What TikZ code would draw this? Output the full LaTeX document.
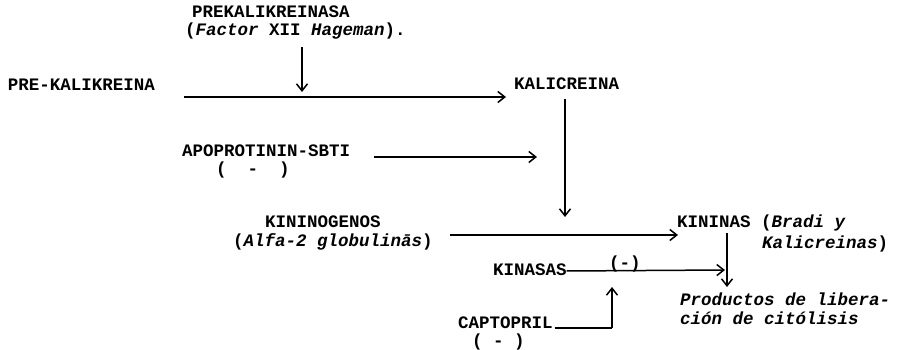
\documentclass[tikz,border=0pt]{standalone}
\usepackage{fontspec}
\setmainfont{Liberation Mono}
\usetikzlibrary{arrows.meta,calc}
\tikzset{
  lbl/.style={inner sep=0pt, outer sep=0pt, anchor=base west, font=\bfseries\fontsize{17.5}{20}\selectfont},
  arr/.style={line width=1.5pt, -{Straight Barb[length=7pt,width=11pt,line width=1.5pt]}},
  ln/.style={line width=1.5pt}
}
\newcommand{\tws}[1]{{\itshape #1}}
\begin{document}
\begin{tikzpicture}[x=1pt,y=-1pt]
\useasboundingbox (0,0) rectangle (903,350);
% texts
\node[lbl] (prek) at (192,18) {PREKALIKREINASA};
\node[lbl] (fac) at (185,36) {(\tws{Factor} XII \tws{Hageman}).};
\node[lbl] (pre) at (8,91) {PRE-KALIKREINA};
\node[lbl] (kal) at (514,90) {KALICREINA};
\node[lbl] (apo) at (182,157) {APOPROTININ-SBTI};
\node[lbl] (apom) at (216,175) {(\ \ -\ \ )};
\node[lbl] (kino) at (265,227) {KININOGENOS};
\node[lbl] (alfa) at (233,247) {(\tws{Alfa-2 globulinās})};
\node[lbl] (kin) at (677,228) {KININAS (\tws{Bradi y}};
\node[lbl] (kal2) at (762,248) {\tws{Kalicreinas})};
\node[lbl] (kinas) at (493,275) {KINASAS};
\node[lbl] (kinm) at (609,268) {(-)};
\node[lbl] (prod) at (680,305) {\tws{Productos de libera-}};
\node[lbl] (cion) at (680,324) {\tws{ción de citólisis}};
\node[lbl] (cap) at (458,328) {CAPTOPRIL};
\node[lbl] (capm) at (472,346) {( - )};
% coordinates
\coordinate (facdown) at (302,47);
\coordinate (preend) at (302,92);
\coordinate (apoend) at (537,157);
\coordinate (kaldown) at (565,217);
\coordinate (kinstart) at (450,235);
\coordinate (kintip) at (678,235);
\coordinate (kinvtop) at (727,233);
\coordinate (kinvtip) at (727,287);
\coordinate (bump) at (612,287);
\coordinate (capcorner) at (612,328);
% connectors
\draw[arr] (facdown) -- (preend);
\draw[arr] ($(pre.base east)+(29,6)$) -- ($(kal.base west)+(-8,7)$);
\draw[arr] ($(kal.base west)+(51,9)$) -- (kaldown);
\draw[arr] ($(apo.base east)+(24,0)$) -- (apoend);
\draw[arr] (kinstart) -- (kintip);
\draw[arr] (kinvtop) -- (kinvtip);
\draw[arr] ($(kinas.base east)+(0,-4)$) -- ($(kinvtop)+(-2,37)$);
\draw[ln] ($(cap.base east)+(2,0)$) -- (capcorner);
\draw[arr] (capcorner) -- (bump);
\end{tikzpicture}
\end{document}
